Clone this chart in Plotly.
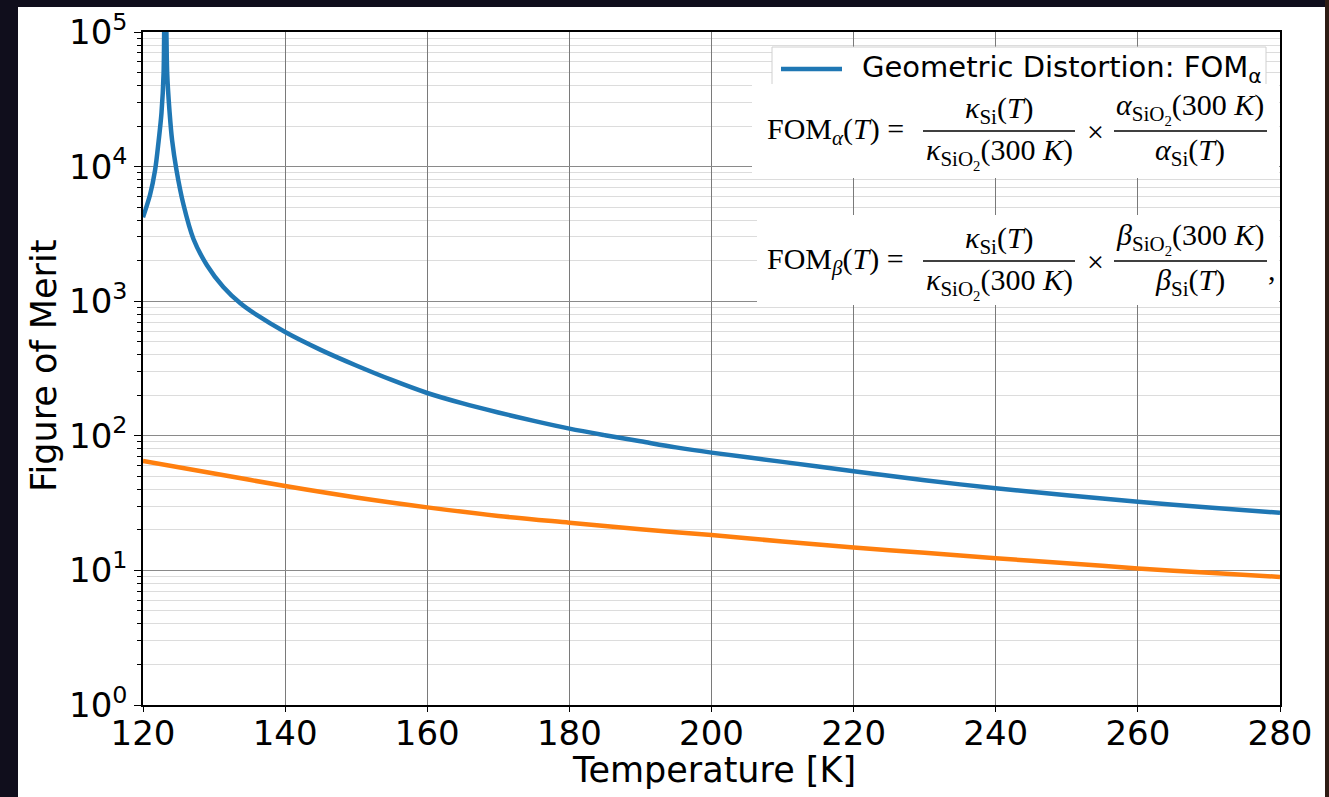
import plotly.graph_objects as go

# ---------------- data ----------------
T_alpha = [120, 121, 121.7, 122.2, 122.6, 122.9, 123.1, 123.4, 123.75, 124.1,
           124.7, 125.7, 127.1, 129, 131.3, 133.7, 136, 140, 145, 150, 155,
           160, 165, 170, 175, 180, 185, 190, 195, 200, 210, 220, 230, 240, 250,
           260, 270, 280]
FOM_alpha = [4200, 6200, 9400, 15500, 25000, 50000, 1000000, 50000, 25000, 15600,
             9500, 5200, 2900, 1850, 1275, 965, 790, 590, 435, 333, 260,
             208, 174, 149, 129, 113, 101, 91, 82, 75, 64, 54.5, 46.8, 40.7, 36.2,
             32.3, 29.3, 26.8]

T_beta = [120, 130, 140, 150, 160, 170, 180, 190, 200, 210, 220, 230, 240,
          250, 260, 270, 280]
FOM_beta = [65, 52.5, 42.3, 34.8, 29.4, 25.4, 22.6, 20.2, 18.3, 16.4, 14.8,
            13.5, 12.3, 11.3, 10.35, 9.6, 8.95]

x_ticks = [120, 140, 160, 180, 200, 220, 240, 260, 280]
y_ticks = [1, 10, 100, 1000, 10000, 100000]
y_ticktext = ["10<sup>0</sup>", "10<sup>1</sup>", "10<sup>2</sup>",
              "10<sup>3</sup>", "10<sup>4</sup>", "10<sup>5</sup>"]

x_title = "Temperature [K]"
y_title = "Figure of Merit"
legend_label = "Geometric Distortion: FOM<sub>α</sub>"

# ---------------- geometry helpers (pixel -> paper) ----------------
W, H = 1329, 797
L, R, T, B = 143, 1280, 32, 705


def px(x):
    return (x - L) / (R - L)


def py(y):
    return (B - y) / (B - T)


BLUE = "#1f77b4"
ORANGE = "#ff7f0e"

fig = go.Figure()
fig.add_trace(go.Scatter(x=T_alpha, y=FOM_alpha, mode="lines",
                         line=dict(color=BLUE, width=4.5, shape="spline",
                                   smoothing=0.9),
                         showlegend=False,
                         name="Geometric Distortion: FOM_alpha"))
fig.add_trace(go.Scatter(x=T_beta, y=FOM_beta, mode="lines",
                         line=dict(color=ORANGE, width=4.5, shape="spline",
                                   smoothing=0.9),
                         showlegend=False, name="FOM_beta"))

font_sans = "DejaVu Sans"

fig.update_layout(
    width=W, height=H,
    margin=dict(l=L, r=W - R, t=T, b=H - B, autoexpand=False),
    paper_bgcolor="#100e1c",
    plot_bgcolor="white",
    showlegend=False,
    font=dict(family=font_sans, color="black"),
)

fig.update_xaxes(
    range=[120, 280], tickvals=x_ticks, ticks="outside", ticklen=5,
    tickwidth=1, tickcolor="black", ticklabelstandoff=-8,
    tickfont=dict(size=34, family=font_sans, color="black"),
    showgrid=True, gridcolor="#7a7a7a", gridwidth=1,
    showline=True, linecolor="black", linewidth=1.5, mirror=True,
    zeroline=False,
)
fig.update_yaxes(
    type="log", range=[0, 5], tickvals=y_ticks, ticktext=y_ticktext,
    ticks="outside", ticklen=7, tickwidth=1, tickcolor="black",
    tickfont=dict(size=34, family=font_sans, color="black"),
    showgrid=True, gridcolor="#8a8a8a", gridwidth=1,
    minor=dict(dtick="D1", showgrid=True, gridcolor="#dcdcdc", gridwidth=1,
               ticks="outside", ticklen=4, tickcolor="black"),
    showline=True, linecolor="black", linewidth=1.5, mirror=True,
    zeroline=False,
)

shapes = []
# white figure area and edge bands
shapes.append(dict(type="rect", xref="paper", yref="paper", layer="below",
                   x0=px(18), x1=px(1325), y0=py(797), y1=py(7),
                   fillcolor="white", line=dict(width=0)))
shapes.append(dict(type="rect", xref="paper", yref="paper", layer="below",
                   x0=px(1325), x1=px(1329), y0=py(797), y1=py(0),
                   fillcolor="#2e1c14", line=dict(width=0)))

# legend box + handle
shapes.append(dict(type="rect", xref="paper", yref="paper", layer="above",
                   x0=px(772), x1=px(1266), y0=py(100), y1=py(47),
                   fillcolor="white", line=dict(color="#d0d0d0", width=1)))
shapes.append(dict(type="line", xref="paper", yref="paper", layer="above",
                   x0=px(781), x1=px(842), y0=py(69), y1=py(69),
                   line=dict(color=BLUE, width=4.5)))

# equation boxes
shapes.append(dict(type="rect", xref="paper", yref="paper", layer="above",
                   x0=px(752), x1=px(1279), y0=py(178), y1=py(84),
                   fillcolor="white", line=dict(width=0)))
shapes.append(dict(type="rect", xref="paper", yref="paper", layer="above",
                   x0=px(757), x1=px(1279), y0=py(305), y1=py(215),
                   fillcolor="white", line=dict(width=0)))

# fraction bars
for ybar in (131, 261):
    shapes.append(dict(type="line", xref="paper", yref="paper", layer="above",
                       x0=px(923), x1=px(1075), y0=py(ybar), y1=py(ybar),
                       line=dict(color="black", width=1.3)))
    shapes.append(dict(type="line", xref="paper", yref="paper", layer="above",
                       x0=px(1114), x1=px(1267), y0=py(ybar), y1=py(ybar),
                       line=dict(color="black", width=1.3)))

fig.update_layout(shapes=shapes)

ann = []
# axis titles
ann.append(dict(xref="paper", yref="paper", x=px(714), y=py(770),
                xanchor="center", yanchor="middle", showarrow=False,
                text=x_title,
                font=dict(size=35, family=font_sans, color="black")))
ann.append(dict(xref="paper", yref="paper", x=px(44), y=py(366),
                xanchor="center", yanchor="middle", showarrow=False,
                textangle=-90, text=y_title,
                font=dict(size=35, family=font_sans, color="black")))
# legend label
ann.append(dict(xref="paper", yref="paper", x=px(860), y=py(69),
                xanchor="left", yanchor="middle", showarrow=False,
                text=legend_label,
                font=dict(size=29, family=font_sans, color="black")))

serif = "Liberation Serif"
EQ = 30


def eq(x, y, text, anchor="center", yanchor="middle"):
    ann.append(dict(xref="paper", yref="paper", x=px(x), y=py(y),
                    xanchor=anchor, yanchor=yanchor, showarrow=False,
                    borderpad=0, text=text,
                    font=dict(size=EQ, family=serif, color="black")))


SIO2 = "SiO<sub>2</sub>"
for (yc, sym, last) in ((131, "α", ""), (261, "β", ",")):
    eq(766, yc, "FOM<sub><i>%s</i></sub>(<i>T</i>) =" % sym, anchor="left")
    eq(999, yc - 1, "<i>κ</i><sub>Si</sub>(<i>T</i>)", yanchor="bottom")
    eq(999, yc + 1, "<i>κ</i><sub>%s</sub>(300 <i>K</i>)" % SIO2, yanchor="top")
    eq(1095, yc, "×")
    eq(1190, yc - 1, "<i>%s</i><sub>%s</sub>(300 <i>K</i>)" % (sym, SIO2),
       yanchor="bottom")
    eq(1190, yc + 1, "<i>%s</i><sub>Si</sub>(<i>T</i>)" % sym, yanchor="top")
    if last:
        eq(1272, yc + 8, last)

fig.update_layout(annotations=ann)

fig.write_html("out.html")
